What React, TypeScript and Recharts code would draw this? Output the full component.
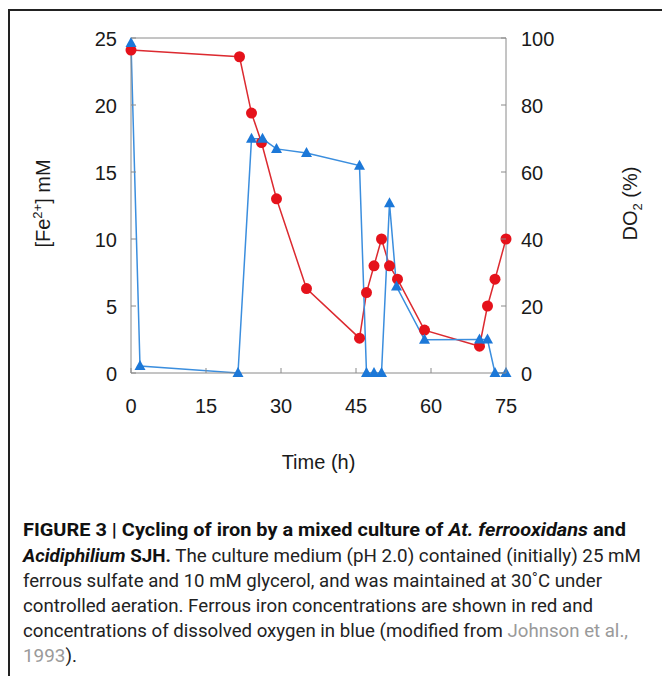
import React from 'react'
import { LineChart, Line, XAxis, YAxis, ReferenceLine, Label } from 'recharts'

// time (h) and ferrous iron (mM), left axis
const feTime = [0, 21.7, 24.1, 26.1, 29.1, 35.1, 45.7, 47.1, 48.6, 50.1, 51.7, 53.3, 58.7, 69.7, 71.3, 72.8, 75]
const feConc = [24.1, 23.6, 19.4, 17.2, 13.0, 6.3, 2.6, 6.0, 8.0, 10.0, 8.0, 7.0, 3.2, 2.0, 5.0, 7.0, 10.0]

// time (h) and dissolved oxygen (%), right axis
const doTime = [0, 1.8, 21.4, 24.1, 26.3, 29.1, 35.1, 45.7, 47.1, 48.6, 50.1, 51.7, 53.1, 58.7, 69.7, 71.3, 72.8, 75]
const doPct = [98.5, 2.1, 0, 69.9, 69.9, 66.9, 65.7, 61.9, 0, 0, 0, 50.7, 25.8, 9.9, 10, 10, 0, 0]

const xTicks = [0, 15, 30, 45, 60, 75]
const leftTicks = [0, 5, 10, 15, 20, 25]
const rightTicks = [0, 20, 40, 60, 80, 100]

const feData = feTime.map((t, i) => ({ t, fe: feConc[i] }))
const doData = doTime.map((t, i) => ({ t, o2: doPct[i] }))

const FONT = '"Liberation Sans", Arial, Helvetica, sans-serif'
const AXIS = '#8a8a8a'
const RED = '#e5121b'
const BLUE = '#1c78d8'

const LeftTick = (props: any) => {
  const { x, y, payload } = props
  const ax = x + 14
  return (
    <g>
      <line x1={ax} x2={ax + 5} y1={y} y2={y} stroke={AXIS} />
      <text x={x} y={y} dy="0.42em" textAnchor="end" fontSize={20} fill="#1a1a1a" fontFamily={FONT}>
        {payload.value}
      </text>
    </g>
  )
}

const RightTick = (props: any) => {
  const { x, y, payload } = props
  const ax = x - 15
  return (
    <g>
      <line x1={ax} x2={ax - 5} y1={y} y2={y} stroke={AXIS} />
      <text x={x} y={y} dy="0.42em" textAnchor="start" fontSize={20} fill="#1a1a1a" fontFamily={FONT}>
        {payload.value}
      </text>
    </g>
  )
}

const BottomTick = (props: any) => {
  const { x, y, payload } = props
  const ay = y - 26
  return (
    <g>
      <line x1={x} x2={x} y1={ay} y2={ay - 5} stroke={AXIS} />
      <text x={x} y={y} dy="0.71em" textAnchor="middle" fontSize={20} fill="#1a1a1a" fontFamily={FONT}>
        {payload.value}
      </text>
    </g>
  )
}

const Circle = (props: any) => {
  const { cx, cy } = props
  if (cx == null || cy == null) return null
  return <circle cx={cx} cy={cy} r={5.5} fill={RED} />
}

const Triangle = (props: any) => {
  const { cx, cy } = props
  if (cx == null || cy == null) return null
  return <polygon points={`${cx},${cy - 6} ${cx - 5.5},${cy + 4} ${cx + 5.5},${cy + 4}`} fill={BLUE} />
}

const LeftTitle = (props: any) => {
  const vb = props.viewBox
  const cx = vb.x - 28
  const cy = vb.y + vb.height / 2 - 2
  return (
    <text transform={`rotate(-90 ${cx} ${cy})`} x={cx} y={cy + 7} textAnchor="middle" fontSize={20} fill="#1a1a1a" fontFamily={FONT}>
      [Fe<tspan dy={-8} fontSize={13}>2+</tspan><tspan dy={8}>] mM</tspan>
    </text>
  )
}

const RightTitle = (props: any) => {
  const vb = props.viewBox
  const cx = 630
  const cy = vb.y + vb.height / 2 - 2
  return (
    <text transform={`rotate(-90 ${cx} ${cy})`} x={cx} y={cy + 7} textAnchor="middle" fontSize={20} fill="#1a1a1a" fontFamily={FONT}>
      DO<tspan dy={5} fontSize={13}>2</tspan><tspan dy={-5}> (%)</tspan>
    </text>
  )
}

const BottomTitle = (props: any) => {
  const vb = props.viewBox
  return (
    <text x={vb.x + vb.width / 2} y={469} textAnchor="middle" fontSize={20} fill="#1a1a1a" fontFamily={FONT}>
      Time (h)
    </text>
  )
}

const CAP = '"Liberation Sans Narrow", "Arial Narrow", "Roboto", sans-serif'

function Caption() {
  const common = { x: 23, fontSize: 18, fontFamily: CAP, fill: '#222', lengthAdjust: 'spacingAndGlyphs' as const }
  return (
    <svg width={662} height={176} style={{ position: 'absolute', left: 0, top: 500 }}>
      <text {...common} y={36} textLength={603} fontWeight="bold" fill="#111">
        FIGURE 3 | Cycling of iron by a mixed culture of <tspan fontStyle="italic">At. ferrooxidans</tspan> and
      </text>
      <text {...common} y={62} textLength={618}>
        <tspan fontWeight="bold" fontStyle="italic" fill="#111">Acidiphilium</tspan>
        <tspan fontWeight="bold" fill="#111"> SJH.</tspan> The culture medium (pH 2.0) contained (initially) 25 mM
      </text>
      <text {...common} y={87} textLength={579}>
        ferrous sulfate and 10 mM glycerol, and was maintained at 30˚C under
      </text>
      <text {...common} y={112} textLength={570}>
        controlled aeration. Ferrous iron concentrations are shown in red and
      </text>
      <text {...common} y={137} textLength={605}>
        concentrations of dissolved oxygen in blue (modified from <tspan fill="#9a9a9a">Johnson et al.,</tspan>
      </text>
      <text {...common} y={162} textLength={54}>
        <tspan fill="#9a9a9a">1993</tspan>).
      </text>
    </svg>
  )
}

export default function App() {
  return (
    <div style={{ position: 'absolute', left: 0, top: 0, width: 662, height: 676, overflow: 'hidden', background: '#fff' }}>
      <div style={{ position: 'absolute', left: 8, top: 9, width: 660, height: 680, borderLeft: '2px solid #222', borderTop: '2px solid #222' }} />
      <div style={{ position: 'absolute', left: 0, top: 0 }}>
        <LineChart width={662} height={500} margin={{ top: 38, right: 96, left: 71, bottom: 97 }}>
          <XAxis
            type="number"
            dataKey="t"
            domain={[0, 75]}
            ticks={xTicks}
            allowDuplicatedCategory={false}
            height={30}
            tickSize={0}
            tickMargin={26}
            tickLine={false}
            axisLine={{ stroke: AXIS }}
            tick={<BottomTick />}
            interval={0}
          >
            <Label content={<BottomTitle />} />
          </XAxis>
          <YAxis
            yAxisId="left"
            orientation="left"
            domain={[0, 25]}
            ticks={leftTicks}
            width={60}
            tickSize={0}
            tickMargin={14}
            tickLine={false}
            axisLine={{ stroke: AXIS }}
            tick={<LeftTick />}
            interval={0}
          >
            <Label content={<LeftTitle />} />
          </YAxis>
          <YAxis
            yAxisId="right"
            orientation="right"
            domain={[0, 100]}
            ticks={rightTicks}
            width={60}
            tickSize={0}
            tickMargin={15}
            tickLine={false}
            axisLine={{ stroke: AXIS }}
            tick={<RightTick />}
            interval={0}
          >
            <Label content={<RightTitle />} />
          </YAxis>
          <ReferenceLine yAxisId="left" y={25} stroke={AXIS} />
          <Line
            yAxisId="left"
            data={feData}
            dataKey="fe"
            stroke="#dc2a30"
            strokeWidth={1.5}
            dot={<Circle />}
            activeDot={false}
            isAnimationActive={false}
          />
          <Line
            yAxisId="right"
            data={doData}
            dataKey="o2"
            stroke="#3b8ede"
            strokeWidth={1.5}
            dot={<Triangle />}
            activeDot={false}
            isAnimationActive={false}
          />
        </LineChart>
      </div>
      <Caption />
    </div>
  )
}
